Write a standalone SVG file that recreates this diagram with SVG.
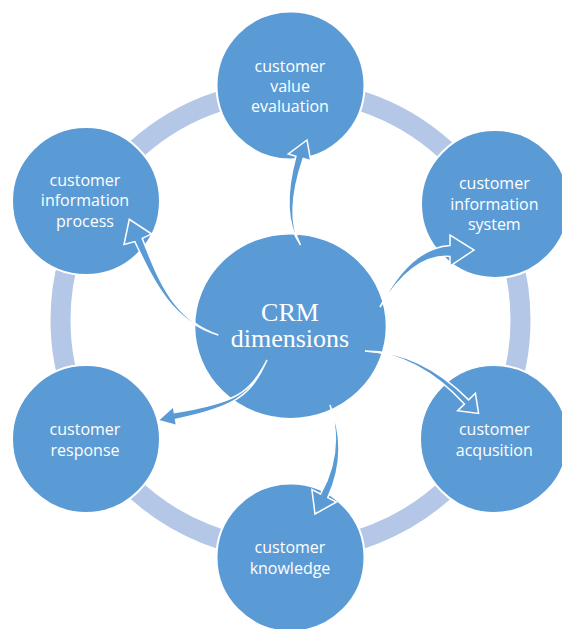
<svg xmlns="http://www.w3.org/2000/svg" width="562" height="629" viewBox="0 0 562 629">
  <style>
    .ring { fill: none; stroke: #b4c7e7; stroke-width: 20; }
    .node { fill: #5b9bd5; stroke: #ffffff; stroke-width: 2; }
    .lbl { font-family: "Open Sans", "Liberation Sans", sans-serif; font-size: 16px; fill: #ffffff; text-anchor: middle; }
    .hub { font-family: "Liberation Serif", "Times New Roman", serif; font-size: 26px; fill: #ffffff; text-anchor: middle; }
    .arrow { fill: #5b9bd5; stroke: #ffffff; stroke-width: 1.5; stroke-linejoin: miter; }
  </style>

  <!-- background cycle ring -->
  <circle class="ring" cx="290.5" cy="320" r="230"/>

  <g id="node-value-evaluation">
    <circle class="node" cx="290.5" cy="85.5" r="74"/>
    <text class="lbl" x="290" y="71.7">customer</text>
    <text class="lbl" x="290" y="91.7">value</text>
    <text class="lbl" x="290" y="111.7">evaluation</text>
  </g>

  <g id="node-information-system">
    <circle class="node" cx="495" cy="204" r="74"/>
    <text class="lbl" x="494.3" y="189">customer</text>
    <text class="lbl" x="494.3" y="209.5">information</text>
    <text class="lbl" x="494.3" y="230">system</text>
  </g>

  <g id="node-acqusition">
    <circle class="node" cx="494" cy="439" r="74"/>
    <text class="lbl" x="494.3" y="435">customer</text>
    <text class="lbl" x="494.3" y="455.5">acqusition</text>
  </g>

  <g id="node-knowledge">
    <circle class="node" cx="290.5" cy="557.5" r="74"/>
    <text class="lbl" x="290" y="553.3">customer</text>
    <text class="lbl" x="290" y="573.5">knowledge</text>
  </g>

  <g id="node-response">
    <circle class="node" cx="86" cy="439" r="74"/>
    <text class="lbl" x="85" y="435">customer</text>
    <text class="lbl" x="85" y="455.8">response</text>
  </g>

  <g id="node-information-process">
    <circle class="node" cx="86" cy="201" r="74"/>
    <text class="lbl" x="85" y="186">customer</text>
    <text class="lbl" x="85" y="206.3">information</text>
    <text class="lbl" x="85" y="226.7">process</text>
  </g>

  <g id="node-crm">
    <ellipse class="node" cx="290.5" cy="326.2" rx="96.2" ry="92.8"/>
    <text class="hub" x="290" y="320.7">CRM</text>
    <text class="hub" x="290" y="347.3">dimensions</text>
  </g>

  <!-- tapered curved arrows from the hub to each dimension -->
  <g id="connectors">
    <path class="arrow" d="M300.5,245 Q284.3,214.6 303.2,158.4 L310.7,160.7 L307,140 L288.3,153.9 L295.9,156.2 Q279.9,215.2 300.5,245 Z"/>
    <path class="arrow" d="M380,307 Q412.7,253.8 450,256.5 L450,266 L474,250 L450,235 L450,245.5 Q409.3,248.2 380,307 Z"/>
    <path class="arrow" d="M365,351 Q419.3,354.6 464.4,404.1 L457.6,410.8 L478.6,413.5 L475.4,393.3 L468.6,399.9 Q420.7,351.4 365,351 Z"/>
    <path class="arrow" d="M330,405 Q344.3,451.2 320.6,494 L311.9,489.6 L315,514 L336.5,502 L327.8,497.6 Q349.1,451.4 330,405 Z"/>
    <path class="arrow" d="M267,360 C249.1,394.6 234.6,402.6 174.4,412.6 L173.5,406.5 L158,420.5 L176.5,425.5 L175.6,419.4 C235.4,407.4 250.9,395.4 267,360 Z"/>
    <path class="arrow" d="M218.3,335 C171.2,318.9 157.3,275.5 142.2,238.4 L151.7,234 L129.3,219.3 L124,244.5 L134.8,241.6 C152.1,277.7 170.4,321.1 218.3,335 Z"/>
  </g>
</svg>
